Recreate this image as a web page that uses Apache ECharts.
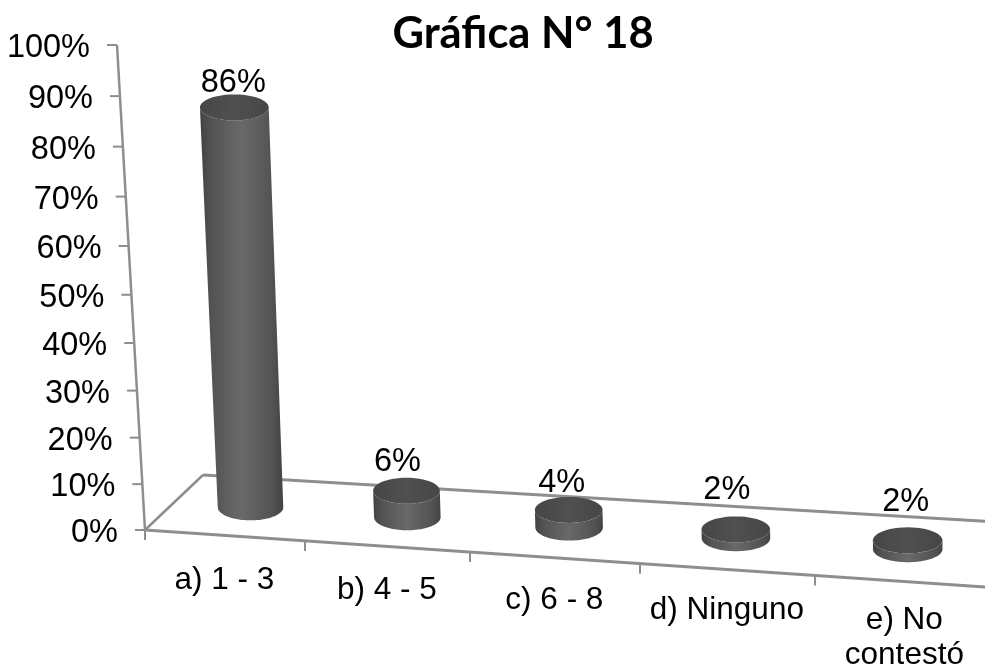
<!DOCTYPE html>
<html><head><meta charset="utf-8">
<style>html,body{margin:0;padding:0;background:#fff}#c{width:985px;height:670px}</style>
<script src="https://cdn.jsdelivr.net/npm/echarts@6/dist/echarts.min.js"></script>
</head><body><div id="c"></div>
<script>
const categories = ['a) 1 - 3', 'b) 4 - 5', 'c) 6 - 8', 'd) Ninguno', 'e) No\ncontestó'];
const values = [86, 6, 4, 2, 2];
const yTicks = [0, 10, 20, 30, 40, 50, 60, 70, 80, 90, 100];

// layout of the oblique 3D view
const G = {left: 145, top: 45, width: 830, height: 485};
const band = G.width / categories.length;
const labelNudge = [[-1, 8], [-9, 3], [-7, 5], [-9, -7], [-2, -6]];
const axisColor = '#8e8e8e';
const font = '"Liberation Sans", Arial, sans-serif';

// maps a point of the grid (band position, value) + floor depth to the oblique view
function project(api, i, v, du, d) {
  const p = api.coord([i, v]);
  const u = (p[0] - G.left) / band + du;
  const h0 = (G.top + G.height - p[1]) / G.height;
  const h = 0.94 * h0 + 0.06 * h0 * h0; // perspective: upper gridlines sit further apart
  const fx = G.left + 157.5 * u + 2.5 * u * u;
  const fy = G.top + G.height + 0.068 * (fx - G.left);
  const dx = 58 - 11.4 * u, dy = -(55 + 2.2 * u);
  const vx = -28 + 4 * u + 14 * d, vy = -(G.height - 32 * d);
  return [fx + dx * d + vx * h, fy + dy * d + vy * h];
}
function ellipsePts(c, rx, ry, a0, a1) {
  const pts = [];
  for (let k = 0; k <= 48; k++) {
    const a = a0 + (a1 - a0) * k / 48;
    pts.push([c[0] + rx * Math.cos(a), c[1] + ry * Math.sin(a)]);
  }
  return pts;
}
const hGrad = (stops) => new echarts.graphic.LinearGradient(0, 0, 1, 0, stops);

function renderFrame(params, api) {
  const last = categories.length - 1;
  const o = project(api, 0, 0, -0.5, 0), e = project(api, last, 0, 0.5, 0);
  const b0 = project(api, 0, 0, -0.5, 1), b1 = project(api, last, 0, 0.5, 1);
  const top = project(api, 0, 100, -0.5, 0);
  const line = (a, b, w) => ({type: 'line', shape: {x1: a[0], y1: a[1], x2: b[0], y2: b[1]},
    style: {stroke: axisColor, lineWidth: w, fill: null}});
  return {type: 'group', children: [
    line(o, b0, 2.5), line(b0, b1, 3), line(o, e, 3), line(o, top, 2.5)
  ]};
}
function renderYTick(params, api) {
  const v = api.value(1);
  const p = project(api, 0, v, -0.5, 0);
  return {type: 'group', children: [
    {type: 'line', shape: {x1: p[0] - 10, y1: p[1], x2: p[0], y2: p[1]},
     style: {stroke: axisColor, lineWidth: 2, fill: null}},
    {type: 'text', style: {text: v + '%', x: p[0] - 27, y: p[1] + 3, align: 'right',
      verticalAlign: 'middle', font: '32.5px ' + font, fill: '#000'}}
  ]};
}
function renderXTick(params, api) {
  const i = params.dataIndex;
  const t = project(api, i, 0, -0.5, 0);
  const c = project(api, i, 0, 0, 0);
  const u = i + 0.5;
  const lines = categories[i].split('\n');
  const children = [{type: 'line', shape: {x1: t[0], y1: t[1], x2: t[0], y2: t[1] + 10},
    style: {stroke: axisColor, lineWidth: 2, fill: null}}];
  lines.forEach((s, k) => children.push({type: 'text', style: {text: s, x: c[0], y: c[1] + 46 - 1.6 * u + k * 35,
    align: 'center', verticalAlign: 'middle', font: '31.5px ' + font, fill: '#000'}}));
  return {type: 'group', children};
}
function renderCylinder(params, api) {
  const i = params.dataIndex, v = api.value(1), u = i + 0.5;
  const b = project(api, i, 0, 0, 0.5), t = project(api, i, v, 0, 0.5);
  const rb = 32.5 + 0.5 * u, rt = rb * (1 + 0.05 * v / 86), ry = 13;
  const body = [[t[0] - rt, t[1]]]
    .concat(ellipsePts(b, rb, ry, Math.PI, 0))
    .concat([[t[0] + rt, t[1]]])
    .concat(ellipsePts(t, rt, ry, 0, Math.PI));
  const nudge = labelNudge[i];
  return {type: 'group', children: [
    {type: 'polygon', shape: {points: body},
     style: {fill: hGrad([{offset: 0, color: '#414141'}, {offset: .12, color: '#525252'},
       {offset: .5, color: '#696969'}, {offset: .88, color: '#525252'}, {offset: 1, color: '#434343'}])}},
    {type: 'polygon', shape: {points: ellipsePts(t, rt, ry, 0, 2 * Math.PI)},
     style: {fill: hGrad([{offset: 0, color: '#464646'}, {offset: .5, color: '#505050'}, {offset: 1, color: '#464646'}])}},
    {type: 'text', style: {text: v + '%', x: t[0] + nudge[0], y: t[1] - 32 + nudge[1], align: 'center',
      verticalAlign: 'middle', font: '32.5px ' + font, fill: '#000'}}
  ]};
}

const chart = echarts.init(document.getElementById('c'), null, {renderer: 'canvas'});
chart.setOption({
  animation: false,
  backgroundColor: '#fff',
  title: {text: 'Gráfica N° 18', left: 518, top: 7, textAlign: 'center',
    textStyle: {fontFamily: 'Lato', fontWeight: 'bold', fontSize: 43.5, color: '#000'}},
  grid: {left: G.left, top: G.top, width: G.width, height: G.height},
  xAxis: {type: 'category', data: categories, show: false},
  yAxis: {type: 'value', min: 0, max: 100, interval: 10, show: false},
  series: [
    {type: 'custom', name: 'frame', z: 1, clip: false, silent: true, data: [[0, 0]], renderItem: renderFrame},
    {type: 'custom', name: 'yTicks', z: 2, clip: false, silent: true,
     data: yTicks.map(v => [0, v]), encode: {x: 0, y: 1}, renderItem: renderYTick},
    {type: 'custom', name: 'xTicks', z: 2, clip: false, silent: true,
     data: categories.map((c, i) => [i, 0]), encode: {x: 0, y: 1}, renderItem: renderXTick},
    {type: 'custom', name: 'Gráfica N° 18', z: 3, clip: false,
     data: values.map((v, i) => [i, v]), encode: {x: 0, y: 1}, renderItem: renderCylinder}
  ]
});
</script></body></html>
